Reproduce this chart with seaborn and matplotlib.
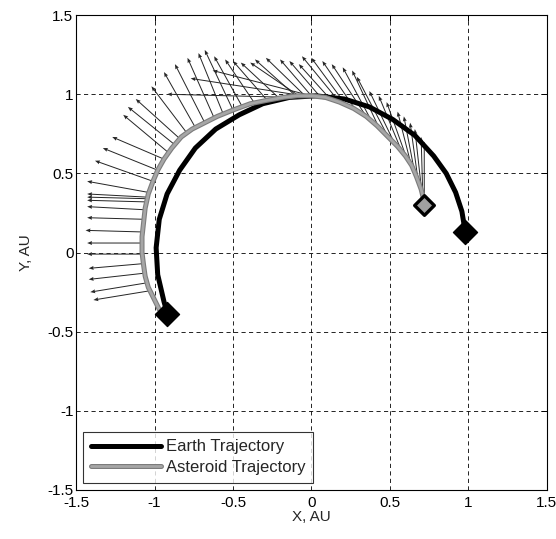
import numpy as np
import pandas as pd
import seaborn as sns
import matplotlib.pyplot as plt
import matplotlib.patheffects as pe

# Earth orbit arc (AU)
earth_x = [0.98, 0.96, 0.92, 0.86, 0.78, 0.66, 0.52, 0.37, 0.21, 0.03, -0.14, -0.31,
           -0.46, -0.61, -0.74, -0.84, -0.92, -0.97, -0.99, -0.98, -0.94, -0.92]
earth_y = [0.14, 0.26, 0.38, 0.50, 0.61, 0.74, 0.84, 0.92, 0.97, 0.99, 0.98, 0.94,
           0.87, 0.78, 0.66, 0.52, 0.37, 0.21, 0.03, -0.14, -0.31, -0.38]

# asteroid trajectory (AU)
ast_x = [0.72, 0.71, 0.70, 0.67, 0.64, 0.60, 0.55, 0.49, 0.42, 0.35, 0.27, 0.18,
         0.09, 0.00, -0.09, -0.18, -0.29, -0.39, -0.50, -0.60, -0.68, -0.76,
         -0.83, -0.89, -0.94, -0.98, -1.01, -1.04, -1.06, -1.07, -1.08, -1.08,
         -1.07, -1.06, -1.04, -1.01, -0.97]
ast_y = [0.32, 0.36, 0.40, 0.48, 0.55, 0.61, 0.67, 0.73, 0.80, 0.86, 0.91, 0.95,
         0.98, 0.99, 0.99, 0.98, 0.96, 0.94, 0.90, 0.86, 0.82, 0.78,
         0.73, 0.66, 0.59, 0.52, 0.45, 0.37, 0.28, 0.19, 0.10, 0.00,
         -0.08, -0.15, -0.22, -0.28, -0.36]

# thrust arrows: base on the asteroid path, tip position
arr_bx = [0.72, 0.71, 0.70, 0.68, 0.66, 0.64, 0.61, 0.58, 0.54, 0.49, 0.44, 0.39,
          0.35, 0.29, 0.23, 0.18, 0.12, 0.06, 0.00, -0.04, -0.08, -0.10,
          0.00, -0.05, -0.12,
          -0.20, -0.28, -0.36, -0.44, -0.50, -0.56, -0.62, -0.68, -0.74, -0.79,
          -0.84, -0.87, -0.91, -0.94, -0.98, -1.01, -1.04, -1.05, -1.05, -1.06,
          -1.06, -1.07, -1.08, -1.08, -1.08, -1.07, -1.06, -1.04, -1.02]
arr_by = [0.34, 0.38, 0.42, 0.46, 0.50, 0.54, 0.59, 0.63, 0.67, 0.73, 0.77, 0.82,
          0.86, 0.89, 0.92, 0.95, 0.97, 0.98, 0.99, 0.99, 0.99, 0.99,
          0.99, 0.99, 0.98,
          0.97, 0.96, 0.94, 0.92, 0.90, 0.87, 0.85, 0.82, 0.79, 0.75,
          0.72, 0.68, 0.63, 0.59, 0.52, 0.45, 0.38, 0.35, 0.34, 0.32,
          0.27, 0.21, 0.13, 0.06, -0.01, -0.07, -0.13, -0.19, -0.24]
arr_tx = [0.72, 0.70, 0.66, 0.63, 0.59, 0.55, 0.48, 0.43, 0.37, 0.29, 0.26, 0.20,
          0.13, 0.07, 0.00, -0.06, -0.08, -0.14, -0.20, -0.29, -0.39, -0.36,
          -0.63, -0.77, -0.92,
          -0.45, -0.50, -0.55, -0.62, -0.68, -0.72, -0.79, -0.87, -0.94, -1.02,
          -1.12, -1.17, -1.20, -1.27, -1.33, -1.38, -1.43, -1.43, -1.43, -1.43,
          -1.43, -1.43, -1.44, -1.43, -1.43, -1.42, -1.42, -1.41, -1.39]
arr_ty = [0.70, 0.73, 0.78, 0.82, 0.86, 0.89, 0.95, 0.99, 1.02, 1.11, 1.15, 1.17,
          1.19, 1.21, 1.23, 1.24, 1.19, 1.21, 1.22, 1.23, 1.20, 1.22,
          1.15, 1.10, 1.00,
          1.20, 1.21, 1.22, 1.24, 1.28, 1.26, 1.23, 1.19, 1.14, 1.05,
          0.97, 0.92, 0.87, 0.73, 0.66, 0.58, 0.45, 0.37, 0.35, 0.33,
          0.29, 0.22, 0.14, 0.06, -0.01, -0.10, -0.17, -0.25, -0.30]

earth_marks_x = [0.98, -0.92]
earth_marks_y = [0.13, -0.39]
ast_mark_x = [0.72]
ast_mark_y = [0.30]

ticks = [-1.5, -1, -0.5, 0, 0.5, 1, 1.5]
tick_labels = ["-1.5", "-1", "-0.5", "0", "0.5", "1", "1.5"]

sns.set_style("white")
plt.rcParams['font.family'] = ['Liberation Sans', 'DejaVu Sans']

fig = plt.figure(figsize=(5.56, 5.39), dpi=100)
ax = fig.add_axes([0.137, 0.091, 0.846, 0.881])

earth = pd.DataFrame({"x": earth_x, "y": earth_y})
ast = pd.DataFrame({"x": ast_x, "y": ast_y})

u = np.array(arr_tx) - np.array(arr_bx)
v = np.array(arr_ty) - np.array(arr_by)
ax.quiver(arr_bx, arr_by, u, v, angles='xy', scale_units='xy', scale=1,
          color='#262626', width=0.0021, headwidth=4, headlength=5,
          headaxislength=4.5, zorder=2)

sns.lineplot(data=earth, x="x", y="y", sort=False, estimator=None, ax=ax,
             color='black', linewidth=3.6, label='Earth Trajectory', zorder=3,
             solid_joinstyle='round')
sns.lineplot(data=ast, x="x", y="y", sort=False, estimator=None, ax=ax,
             color='#a6a6a6', linewidth=2.0, label='Asteroid Trajectory', zorder=4,
             solid_joinstyle='round',
             path_effects=[pe.Stroke(linewidth=3.6, foreground='#7c7c7c'), pe.Normal()])

sns.scatterplot(x=earth_marks_x, y=earth_marks_y, marker='D', s=150, color='black',
                edgecolor='black', ax=ax, zorder=5)
sns.scatterplot(x=ast_mark_x, y=ast_mark_y, marker='D', s=100, color='#a0a0a0',
                edgecolor='black', linewidth=2.4, ax=ax, zorder=5)

ax.set_xlim(-1.5, 1.5)
ax.set_ylim(-1.5, 1.5)
ax.set_xticks(ticks)
ax.set_xticklabels(tick_labels)
ax.set_yticks(ticks)
ax.set_yticklabels(tick_labels)
ax.tick_params(direction='in', length=4, width=0.7, labelsize=11, colors='black',
               top=True, right=True, pad=2)
ax.tick_params(axis='x', pad=4)
ax.grid(True, color='black', linestyle=(0, (5, 4)), linewidth=0.6)
for s in ax.spines.values():
    s.set_color('black')
    s.set_linewidth(0.8)
ax.set_xlabel("X, AU", fontsize=11, labelpad=0)
ax.set_ylabel("Y, AU", fontsize=11, labelpad=10)

leg = ax.legend(loc='lower left', bbox_to_anchor=(0.015, 0.015), borderaxespad=0,
                fontsize=12, handlelength=4.2, frameon=True, fancybox=False,
                borderpad=0.45, labelspacing=0.35, handletextpad=0.3)
leg.get_frame().set_edgecolor('black')
leg.get_frame().set_linewidth(0.8)

fig.savefig("out.png", dpi=100)
